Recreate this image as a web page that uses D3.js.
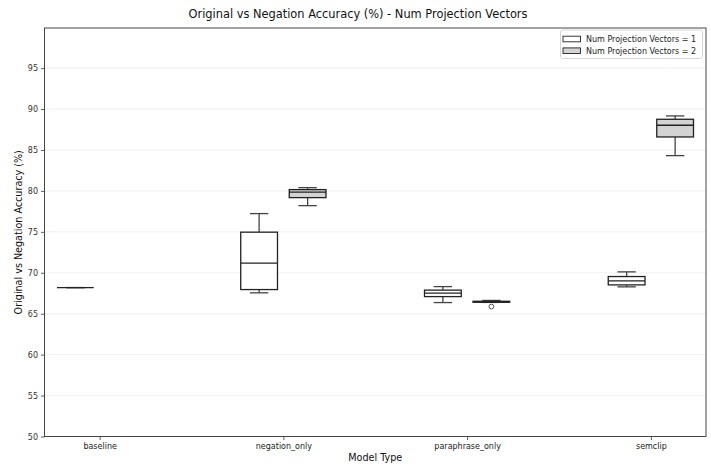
<!DOCTYPE html>
<html>
<head>
<meta charset="utf-8">
<script src="https://cdn.jsdelivr.net/npm/d3@7"></script>
<style>
  body { margin: 0; background: #fff; }
  svg { display: block; font-family: "DejaVu Sans", sans-serif; }
</style>
</head>
<body>
<svg id="canvas" width="711" height="466"></svg>
<script>
let categories = ['baseline', 'negation_only', 'paraphrase_only', 'semclip']
let seriesNames = ['Num Projection Vectors = 1', 'Num Projection Vectors = 2']
let yTicks = [50, 55, 60, 65, 70, 75, 80, 85, 90, 95]

// box stats per category, null = no data
let vec1Low    = [68.19, 67.55, 66.36, 68.28]
let vec1Q1     = [68.19, 67.95, 67.09, 68.52]
let vec1Median = [68.19, 71.17, 67.51, 69.01]
let vec1Q3     = [68.19, 74.96, 67.88, 69.54]
let vec1High   = [68.19, 77.23, 68.31, 70.11]
let vec1Fliers = [[], [], [], []]

let vec2Low    = [null, 78.20, 66.38, 84.31]
let vec2Q1     = [null, 79.18, 66.40, 86.59]
let vec2Median = [null, 79.85, 66.45, 88.02]
let vec2Q3     = [null, 80.16, 66.52, 88.75]
let vec2High   = [null, 80.40, 66.62, 89.16]
let vec2Fliers = [[], [], [65.87], []]

let fills = ['#ffffff', '#d3d3d3']

let margin = {left: 44.5, right: 5, top: 28, bottom: 29.5}
let width = 711, height = 466

let canvas = d3.select('#canvas')

let x = d3.scaleLinear()
    .domain([-0.3, categories.length - 0.7])
    .range([margin.left, width - margin.right])

let y = d3.scaleLinear()
    .domain([50, 99.9])
    .range([height - margin.bottom, margin.top])

let boxWidth = x(0.2) - x(0)
let offsets = [-0.132, 0.132]

// grid
canvas.append('g')
    .selectAll('line')
    .data(yTicks)
    .enter()
    .append('line')
    .attr('x1', margin.left)
    .attr('x2', width - margin.right)
    .attr('y1', d => y(d))
    .attr('y2', d => y(d))
    .attr('stroke', '#ececec')
    .attr('stroke-width', 0.8)

let series = [
    {low: vec1Low, q1: vec1Q1, median: vec1Median, q3: vec1Q3, high: vec1High, fliers: vec1Fliers},
    {low: vec2Low, q1: vec2Q1, median: vec2Median, q3: vec2Q3, high: vec2High, fliers: vec2Fliers}
]

series.forEach((s, si) => {
    categories.forEach((cat, ci) => {
        if (s.median[ci] === null) return
        let cx = x(ci + offsets[si])
        let g = canvas.append('g')
        let capHalf = boxWidth / 4
        // whiskers
        g.append('line')
            .attr('x1', cx).attr('x2', cx)
            .attr('y1', y(s.q3[ci])).attr('y2', y(s.high[ci]))
            .attr('stroke', '#444').attr('stroke-width', 1.3)
        g.append('line')
            .attr('x1', cx).attr('x2', cx)
            .attr('y1', y(s.q1[ci])).attr('y2', y(s.low[ci]))
            .attr('stroke', '#444').attr('stroke-width', 1.3)
        g.append('line')
            .attr('x1', cx - capHalf).attr('x2', cx + capHalf)
            .attr('y1', y(s.high[ci])).attr('y2', y(s.high[ci]))
            .attr('stroke', '#444').attr('stroke-width', 1.3)
        g.append('line')
            .attr('x1', cx - capHalf).attr('x2', cx + capHalf)
            .attr('y1', y(s.low[ci])).attr('y2', y(s.low[ci]))
            .attr('stroke', '#444').attr('stroke-width', 1.3)
        // box
        g.append('rect')
            .attr('x', cx - boxWidth / 2)
            .attr('y', y(s.q3[ci]))
            .attr('width', boxWidth)
            .attr('height', y(s.q1[ci]) - y(s.q3[ci]))
            .attr('fill', fills[si])
            .attr('stroke', '#222')
            .attr('stroke-width', 1.3)
        // median
        g.append('line')
            .attr('x1', cx - boxWidth / 2).attr('x2', cx + boxWidth / 2)
            .attr('y1', y(s.median[ci])).attr('y2', y(s.median[ci]))
            .attr('stroke', '#222').attr('stroke-width', 1.3)
        s.fliers[ci].forEach(v => {
            g.append('circle')
                .attr('cx', cx).attr('cy', y(v)).attr('r', 2.4)
                .attr('fill', 'none').attr('stroke', '#444').attr('stroke-width', 0.9)
        })
    })
})

// axes
let yAxis = d3.axisLeft(y).tickValues(yTicks).tickSize(3.5).tickPadding(3)
let yg = canvas.append('g')
    .attr('transform', 'translate(' + margin.left + ',0)')
    .call(yAxis)
yg.select('.domain').remove()
yg.selectAll('text').attr('font-size', 8).attr('fill', '#333').attr('font-family', 'DejaVu Sans')
yg.selectAll('line').attr('stroke', '#333').attr('stroke-width', 0.8)

let xAxis = d3.axisBottom(x).tickValues(d3.range(categories.length))
    .tickFormat(i => categories[i]).tickSize(3.5).tickPadding(3)
let xg = canvas.append('g')
    .attr('transform', 'translate(0,' + (height - margin.bottom) + ')')
    .call(xAxis)
xg.select('.domain').remove()
xg.selectAll('text').attr('font-size', 8).attr('fill', '#222').attr('font-family', 'DejaVu Sans')
xg.selectAll('line').attr('stroke', '#333').attr('stroke-width', 0.8)

// frame
canvas.append('rect')
    .attr('x', margin.left)
    .attr('y', margin.top)
    .attr('width', width - margin.left - margin.right)
    .attr('height', height - margin.top - margin.bottom)
    .attr('fill', 'none')
    .attr('stroke', '#333')
    .attr('stroke-width', 0.9)

// titles
canvas.append('text')
    .text('Original vs Negation Accuracy (%) - Num Projection Vectors')
    .attr('x', 358)
    .attr('y', 17.5)
    .attr('text-anchor', 'middle')
    .attr('font-size', 11.4)
    .attr('fill', '#111')

canvas.append('text')
    .text('Model Type')
    .attr('x', (margin.left + width - margin.right) / 2)
    .attr('y', 461)
    .attr('text-anchor', 'middle')
    .attr('font-size', 9.6)
    .attr('fill', '#111')

canvas.append('text')
    .text('Original vs Negation Accuracy (%)')
    .attr('transform', 'translate(21.5,' + ((margin.top + height - margin.bottom) / 2) + ') rotate(-90)')
    .attr('text-anchor', 'middle')
    .attr('font-size', 9.6)
    .attr('fill', '#111')

// legend
let legend = canvas.append('g')
legend.append('rect')
    .attr('x', 560.5).attr('y', 30)
    .attr('width', 142).attr('height', 28.5)
    .attr('rx', 2)
    .attr('fill', '#fff').attr('fill-opacity', 0.8)
    .attr('stroke', '#ccc').attr('stroke-width', 0.8)

seriesNames.forEach((name, i) => {
    let ly = 39 + i * 11.7
    legend.append('rect')
        .attr('x', 563).attr('y', ly - 2.8)
        .attr('width', 17.5).attr('height', 5.6)
        .attr('fill', fills[i])
        .attr('stroke', '#222').attr('stroke-width', 0.9)
    legend.append('text')
        .text(name)
        .attr('x', 586).attr('y', ly + 2.9)
        .attr('font-size', 8)
        .attr('fill', '#222')
})
</script>
</body>
</html>
